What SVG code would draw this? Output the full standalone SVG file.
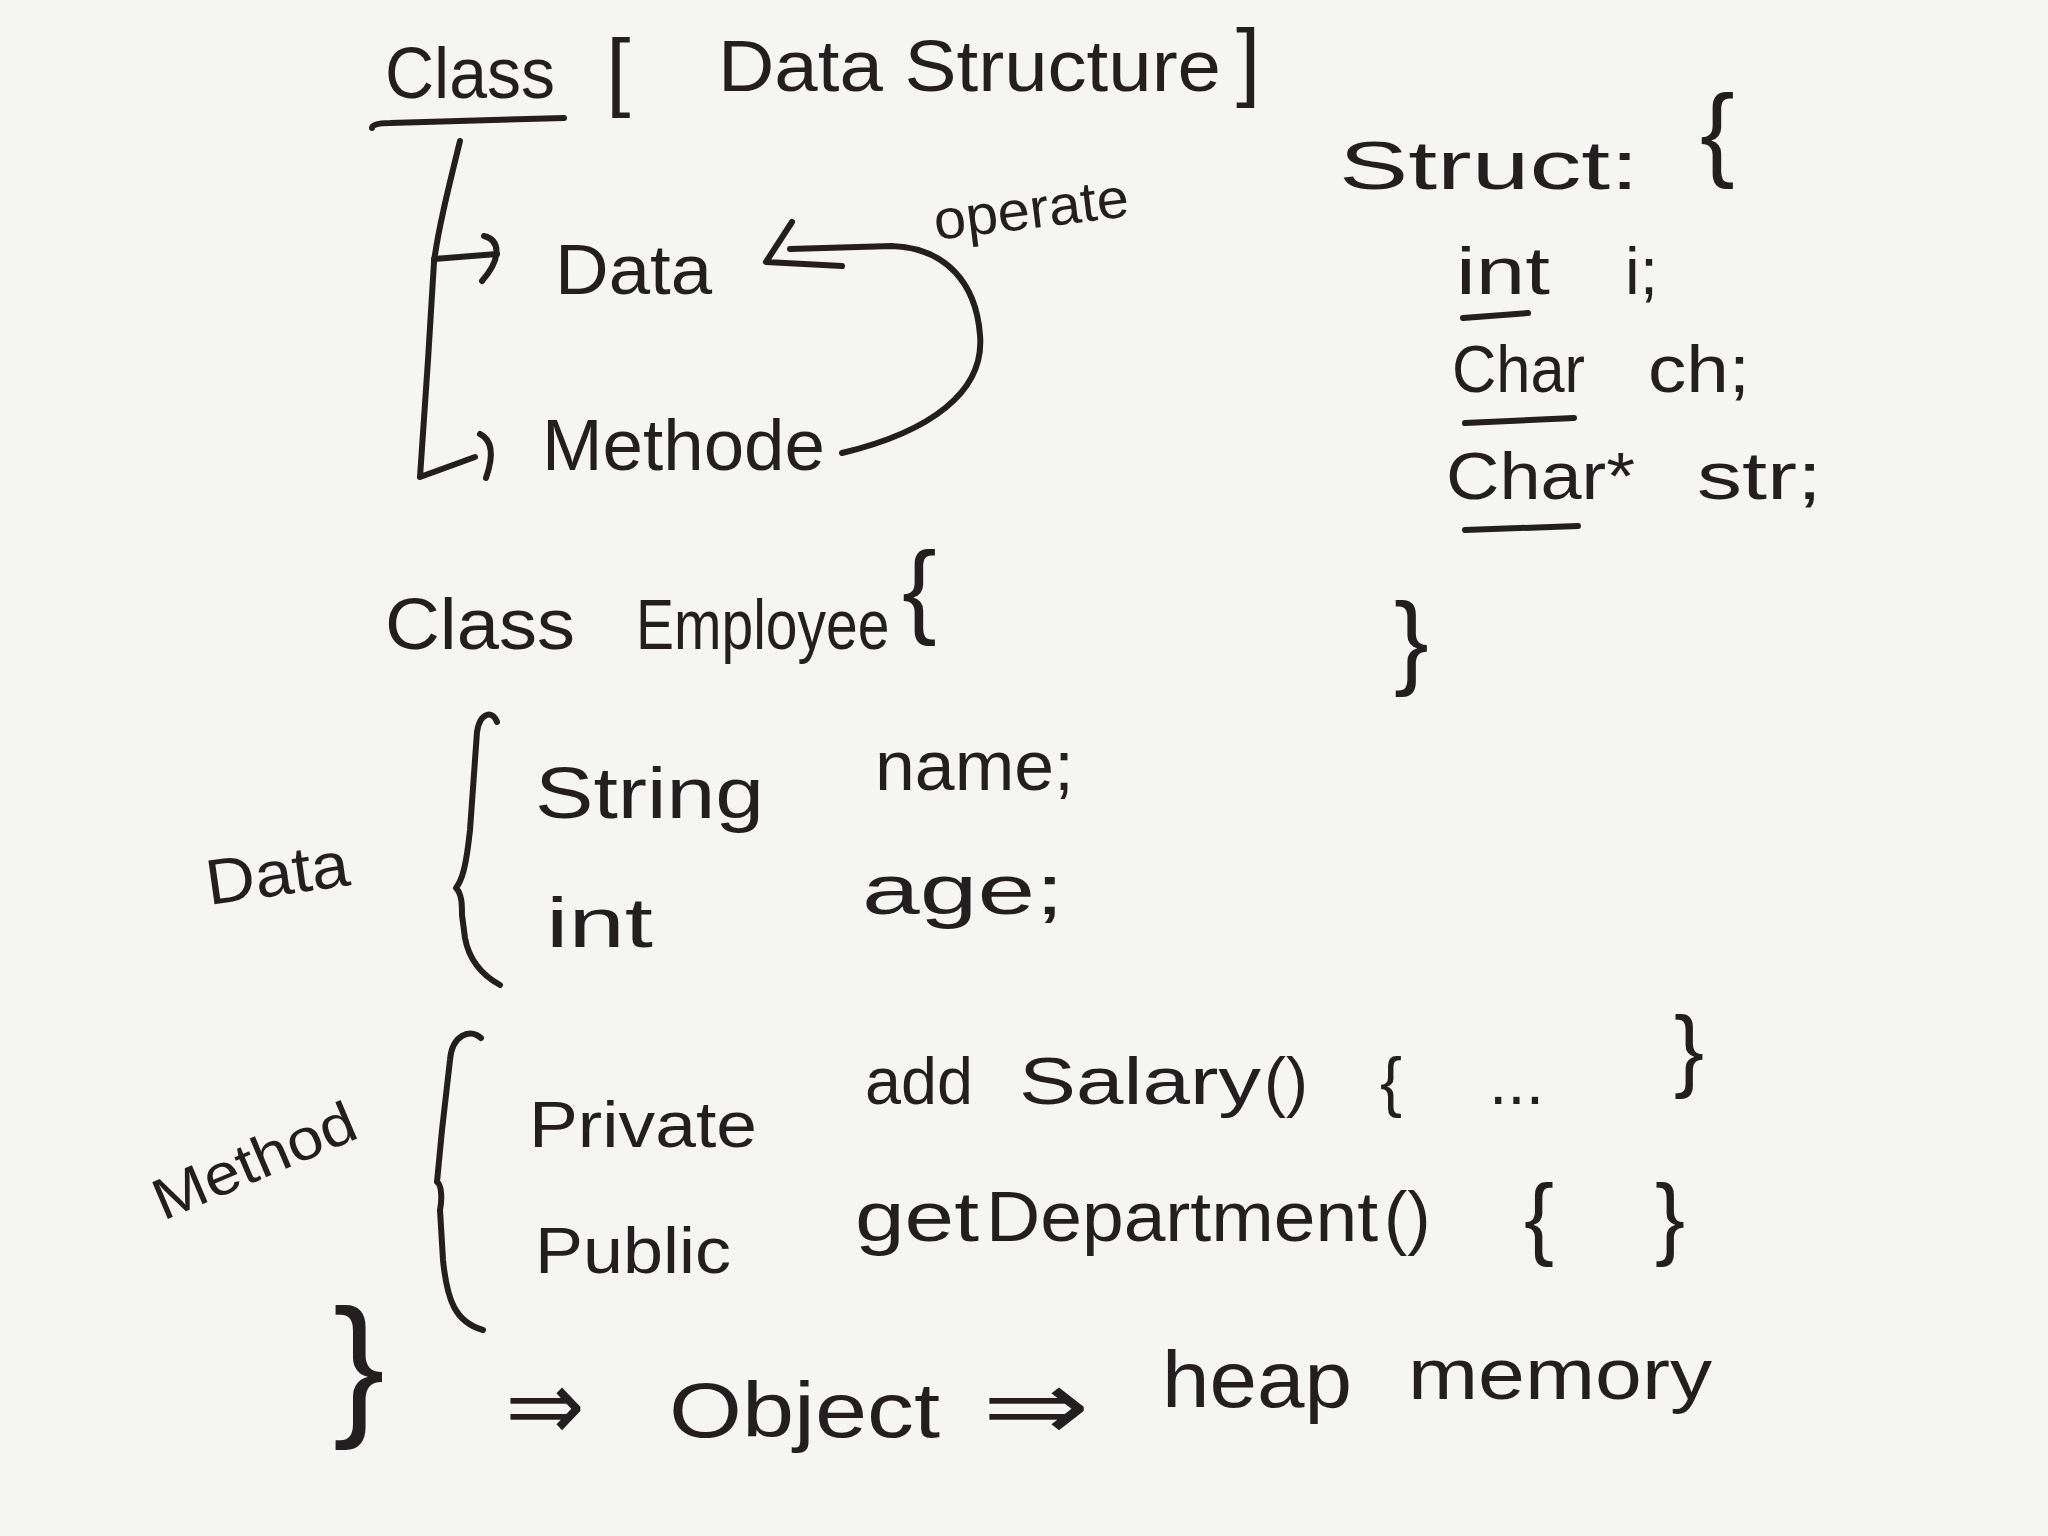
<svg xmlns="http://www.w3.org/2000/svg" width="2048" height="1536" viewBox="0 0 2048 1536">
<style>
.t{font-family:'Liberation Sans','DejaVu Sans',Arial,sans-serif;fill:#231f20}
.a{font-family:'DejaVu Sans','Liberation Sans',sans-serif;fill:#231f20}
.s{fill:none;stroke:#231f20;stroke-width:6;stroke-linecap:round;stroke-linejoin:round}
</style>
<rect width="2048" height="1536" fill="#f5f5f3"/>
<g id="title">
<text class="t" font-size="72" y="98"><tspan x="385" textLength="170" lengthAdjust="spacingAndGlyphs">Class</tspan><tspan x="606" y="100" font-size="88">[</tspan><tspan x="718" y="91" textLength="503" lengthAdjust="spacingAndGlyphs">Data Structure</tspan><tspan x="1236" y="90" font-size="88">]</tspan></text>
</g>
<g id="data-top">
<text class="t" font-size="70" x="555" y="294" textLength="157" lengthAdjust="spacingAndGlyphs">Data</text>
</g>
<g id="methode-top">
<text class="t" font-size="72" x="542" y="470" textLength="283" lengthAdjust="spacingAndGlyphs">Methode</text>
</g>
<g id="operate">
<text class="t" font-size="56" x="936" y="240" textLength="196" lengthAdjust="spacingAndGlyphs" transform="rotate(-7 936 240)">operate</text>
</g>
<g id="struct">
<text class="t" font-size="68" x="1339" y="189" textLength="300" lengthAdjust="spacingAndGlyphs">Struct:</text>
<text class="t" font-size="104" x="1700" y="167">{</text>
<text class="t" font-size="66" y="294"><tspan x="1456" textLength="94" lengthAdjust="spacingAndGlyphs">int</tspan><tspan x="1625">i;</tspan></text>
<text class="t" font-size="66" y="392"><tspan x="1452" textLength="133" lengthAdjust="spacingAndGlyphs">Char</tspan><tspan x="1648" textLength="102" lengthAdjust="spacingAndGlyphs">ch;</tspan></text>
<text class="t" font-size="66" y="499"><tspan x="1446" textLength="189" lengthAdjust="spacingAndGlyphs">Char*</tspan><tspan x="1697" textLength="125" lengthAdjust="spacingAndGlyphs">str;</tspan></text>
<text class="t" font-size="104" x="1394" y="675">}</text>
<path class="s" d="M1463,318 L1528,313 M1465,423 L1574,418 M1465,530 L1578,526"/>
</g>
<g id="employee">
<text class="t" font-size="72" x="385" y="649" textLength="190" lengthAdjust="spacingAndGlyphs">Class</text>
<text class="t" font-size="57" x="0" y="0" transform="translate(636,649) scale(1,1.25)">Employee</text>
<text class="t" font-size="104" x="902" y="624">{</text>
</g>
<g id="data-group">
<text class="t" font-size="64" x="209" y="905" textLength="144" lengthAdjust="spacingAndGlyphs" transform="rotate(-8 209 905)">Data</text>
<text class="t" font-size="72" x="535" y="818" textLength="229" lengthAdjust="spacingAndGlyphs">String</text>
<text class="t" font-size="70" x="875" y="790" textLength="199" lengthAdjust="spacingAndGlyphs">name;</text>
<text class="t" font-size="70" x="546" y="947" textLength="107" lengthAdjust="spacingAndGlyphs">int</text>
<text class="t" font-size="70" x="862" y="914" textLength="202" lengthAdjust="spacingAndGlyphs">age;</text>
</g>
<g id="method-group">
<text class="t" font-size="58" x="163" y="1221" textLength="215" lengthAdjust="spacingAndGlyphs" transform="rotate(-23 163 1221)">Method</text>
<text class="t" font-size="64" x="529" y="1147" textLength="228" lengthAdjust="spacingAndGlyphs">Private</text>
<text class="t" font-size="66" y="1104"><tspan x="865" textLength="108" lengthAdjust="spacingAndGlyphs">add</tspan><tspan x="1019" textLength="242" lengthAdjust="spacingAndGlyphs">Salary</tspan><tspan x="1264">()</tspan><tspan x="1380">{</tspan><tspan x="1489">...</tspan><tspan x="1674" y="1080" font-size="90">}</tspan></text>
<text class="t" font-size="64" x="535" y="1273" textLength="196" lengthAdjust="spacingAndGlyphs">Public</text>
<text class="t" font-size="70" y="1241"><tspan x="855" textLength="124" lengthAdjust="spacingAndGlyphs">get</tspan><tspan x="986" textLength="392" lengthAdjust="spacingAndGlyphs">Department</tspan><tspan x="1384">()</tspan><tspan x="1524" y="1248" font-size="90">{</tspan><tspan x="1655" y="1248" font-size="90">}</tspan></text>
</g>
<g id="object-line">
<text class="t" font-size="155" x="333" y="1418">}</text>
<text class="a" font-size="100" x="505" y="1440" textLength="80" lengthAdjust="spacingAndGlyphs">⇒</text>
<text class="t" font-size="78" x="669" y="1437" textLength="271" lengthAdjust="spacingAndGlyphs">Object</text>
<text class="a" font-size="100" x="982" y="1440" textLength="108" lengthAdjust="spacingAndGlyphs">⇒</text>
<text class="t" font-size="80" x="1162" y="1407" textLength="190" lengthAdjust="spacingAndGlyphs">heap</text>
<text class="t" font-size="72" x="1408" y="1399" textLength="304" lengthAdjust="spacingAndGlyphs">memory</text>
</g>
<g id="connectors">
<path class="s" d="M372,128 C372,124 380,123 390,123 L564,118"/>
<path class="s" d="M460,141 C448,190 438,230 434,262 L428,360 L420,477 L475,457"/>
<path class="s" d="M480,434 C492,440 494,455 486,478"/>
<path class="s" d="M434,259 L497,254"/>
<path class="s" d="M484,236 C500,240 502,258 482,281"/>
<path class="s" d="M842,453 C930,432 985,392 980,335 C976,282 945,248 892,246 L790,249"/>
<path class="s" d="M792,222 L766,262 L842,266"/>
<path class="s" d="M497,722 C493,710 480,712 477,732 L470,830 C466,868 462,880 456,888 C462,894 462,905 462,915 L465,938 C469,960 482,975 500,985"/>
<path class="s" d="M481,1038 C470,1028 452,1035 450,1060 L442,1130 L437,1182 C442,1185 442,1200 440,1210 L443,1260 C447,1300 455,1322 483,1330"/>
</g>
</svg>
